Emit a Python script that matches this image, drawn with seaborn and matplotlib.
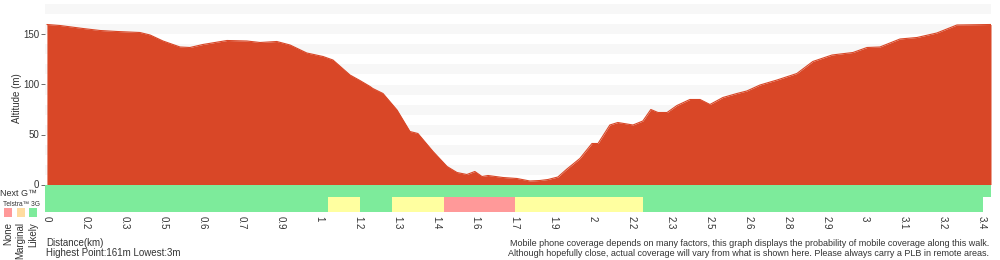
import numpy as np
import matplotlib
matplotlib.use('Agg')
import matplotlib.pyplot as plt
import seaborn as sns

# elevation profile (distance km, altitude m)
dist_km = [0.0, 0.047, 0.131, 0.193, 0.255, 0.338, 0.375, 0.422, 0.484, 0.520,
           0.567, 0.655, 0.727, 0.775, 0.836, 0.884, 0.945, 1.004, 1.040, 1.102,
           1.138, 1.175, 1.185, 1.222, 1.273, 1.320, 1.349, 1.404, 1.455, 1.491,
           1.527, 1.556, 1.582, 1.604, 1.658, 1.709, 1.756, 1.793, 1.822, 1.858,
           1.891, 1.938, 1.982, 2.004, 2.047, 2.076, 2.131, 2.167, 2.196, 2.222,
           2.255, 2.291, 2.338, 2.375, 2.411, 2.458, 2.509, 2.545, 2.593, 2.655,
           2.727, 2.785, 2.855, 2.931, 2.982, 3.029, 3.102, 3.164, 3.236, 3.309,
           3.433]
alt_m = [160, 159, 156, 154, 153, 152, 149.5, 143.5, 137.5, 137,
         140, 144, 143.5, 142, 143, 139.5, 131.5, 128, 124.5, 109.5,
         104, 98, 96, 91, 74.5, 53, 51, 33, 18, 12,
         10, 13, 8, 9, 7, 6, 3.5, 4, 5, 7.5,
         15.5, 26, 41, 41, 59.5, 62, 59.5, 63.5, 75, 72,
         72, 79, 85, 85, 80, 87, 91, 93.5, 99.5, 104.5,
         111, 123, 129.5, 132, 137, 137.5, 145.5, 147, 151.5, 159.5,
         160]

tick_labels = ['0', '0.2', '0.3', '0.5', '0.6', '0.7', '0.9', '1', '1.2', '1.3',
               '1.4', '1.6', '1.7', '1.9', '2', '2.2', '2.3', '2.5', '2.6', '2.8',
               '2.9', '3', '3.1', '3.2', '3.4']

# Telstra 3G coverage segments
cov_start = [0.0, 1.022, 1.138, 1.255, 1.444, 1.702, 2.167]
cov_end = [1.022, 1.138, 1.255, 1.444, 1.702, 2.167, 3.404]
cov_level = ['Likely', 'Marginal', 'Likely', 'Marginal', 'None', 'Marginal', 'Likely']

RED = '#d94727'
cov_colors = {'None': '#ff9999', 'Marginal': '#ffffa0', 'Likely': '#7deb9b'}
legend_colors = ['#ff9999', '#ffdca0', '#7deb9b']
TXT = '#333333'

sns.set_style('white')
plt.rcParams['font.family'] = ['Liberation Sans', 'DejaVu Sans']

fig = plt.figure(figsize=(10, 2.6), dpi=100)
ax = fig.add_axes([0.045, 1 - 212 / 260, 0.946, (212 - 4.5) / 260])
x_min, x_max = -0.007, 3.433
ax.set_xlim(x_min, x_max)
ax.set_ylim(-27.5, 180)

# alternating background bands
for y0 in range(10, 180, 20):
    ax.axhspan(y0, y0 + 10, color='#f7f7f7', lw=0, zorder=0)

ax.fill_between(dist_km, 0, alt_m, color=RED, lw=0, zorder=2)
sns.lineplot(x=dist_km, y=alt_m, color=RED, lw=0.8, ax=ax, zorder=3)

# Next G strip (all likely)
ax.broken_barh([(x_min, x_max - x_min)], (-12.5, 12.5),
               facecolors=cov_colors['Likely'], linewidth=0, zorder=2)
# Telstra 3G strip
starts = [x_min] + cov_start[1:]
ax.broken_barh([(s, e - s) for s, e in zip(starts, cov_end)], (-27.5, 15),
               facecolors=[cov_colors[c] for c in cov_level], linewidth=0, zorder=2)

tick_pos = np.arange(len(tick_labels)) * 3.4 / 24
ax.set_xticks(tick_pos)
ax.set_xticklabels(tick_labels, rotation=-90, fontsize=7, color=TXT)
ax.set_yticks([0, 50, 100, 150])
ax.set_yticklabels(['0', '50', '100', '150'], fontsize=7, color=TXT)
ax.tick_params(axis='y', length=3, width=0.6, color='#555555', pad=1, left=True)
ax.tick_params(axis='x', length=0, pad=3)
ax.set_ylabel('Altitude (m)', fontsize=7, color=TXT)
ax.yaxis.set_label_coords(-0.024, 0.55)
for s in ax.spines.values():
    s.set_visible(False)

fig.text(0.0, 1 - 193.5 / 260, 'Next G™', fontsize=6.5, color=TXT, va='center')
fig.text(0.003, 1 - 204 / 260, 'Telstra™ 3G', fontsize=4.8, color=TXT, va='center')
for i, (c, lab) in enumerate(zip(legend_colors, ['None', 'Marginal', 'Likely'])):
    fig.patches.append(plt.Rectangle((0.004 + i * 0.0125, 1 - 217 / 260), 0.008, 9 / 260,
                                     transform=fig.transFigure, facecolor=c, edgecolor='none'))
    fig.text(0.008 + i * 0.0125, 1 - 222 / 260, lab, fontsize=7, color=TXT, rotation=90,
             ha='center', va='top')

fig.text(0.046, 1 - 243 / 260, 'Distance(km)', fontsize=7, color=TXT, va='center')
fig.text(0.046, 1 - 253 / 260, 'Highest Point:161m Lowest:3m', fontsize=7, color=TXT, va='center')
fig.text(0.989, 1 - 243 / 260,
         'Mobile phone coverage depends on many factors, this graph displays the probability of mobile coverage along this walk.',
         fontsize=6.5, color=TXT, ha='right', va='center')
fig.text(0.989, 1 - 253 / 260,
         'Although hopefully close, actual coverage will vary from what is shown here. Please always carry a PLB in remote areas.',
         fontsize=6.5, color=TXT, ha='right', va='center')

fig.savefig('out.png', dpi=100)
